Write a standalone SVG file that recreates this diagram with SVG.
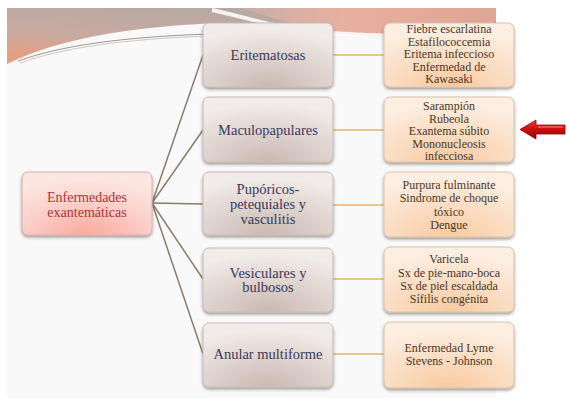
<svg xmlns="http://www.w3.org/2000/svg" width="567" height="401" viewBox="0 0 567 401">
<defs>
<linearGradient id="band" x1="0" y1="1" x2="0.55" y2="0">
<stop offset="0" stop-color="#ef9a76"/>
<stop offset="0.45" stop-color="#c9aaa0"/>
<stop offset="1" stop-color="#b4a9a4"/>
</linearGradient>
<linearGradient id="bandR" x1="0" y1="0" x2="1" y2="0">
<stop offset="0" stop-color="#e9b6a6" stop-opacity="0.3"/>
<stop offset="0.4" stop-color="#e8b09e"/>
<stop offset="1" stop-color="#dfa594"/>
</linearGradient>
<radialGradient id="gMid" cx="0.5" cy="1" r="0.9">
<stop offset="0" stop-color="#c9b8b1"/>
<stop offset="0.6" stop-color="#e2d7d2"/>
<stop offset="1" stop-color="#f1ece9"/>
</radialGradient>
<radialGradient id="gRight" cx="0.5" cy="1" r="0.9">
<stop offset="0" stop-color="#f8c9a0"/>
<stop offset="0.6" stop-color="#fbe0c8"/>
<stop offset="1" stop-color="#fdeee2"/>
</radialGradient>
<radialGradient id="gRoot" cx="0.5" cy="1" r="0.9">
<stop offset="0" stop-color="#fba89c"/>
<stop offset="0.6" stop-color="#fbd3cd"/>
<stop offset="1" stop-color="#fce6e2"/>
</radialGradient>
<linearGradient id="gArrow" x1="0" y1="0" x2="0" y2="1">
<stop offset="0" stop-color="#e84040"/>
<stop offset="0.45" stop-color="#d01010"/>
<stop offset="1" stop-color="#8a0000"/>
</linearGradient>
<filter id="sh" x="-10%" y="-10%" width="120%" height="130%">
<feDropShadow dx="0" dy="2" stdDeviation="1.5" flood-color="#3a2a20" flood-opacity="0.45"/>
</filter>
</defs>
<style>
.mid rect{fill:url(#gMid);stroke:#c9bcb6;stroke-width:1;filter:url(#sh)}
.rt rect{fill:url(#gRight);stroke:#d9c2ad;stroke-width:1;filter:url(#sh)}
.root rect{fill:url(#gRoot);stroke:#d8b0aa;stroke-width:1;filter:url(#sh)}
text{font-family:"Liberation Serif","DejaVu Serif",serif;text-anchor:middle}
.mid text{font-size:14.5px;fill:#383a5a}
.rt text{font-size:12px;fill:#4a361f}
.root text{font-size:14px;fill:#b5323a}
#connectors .a{stroke:#8c7b6b;stroke-width:1.5;fill:none}
#connectors .b{stroke:#eac78c;stroke-width:2;fill:none}
</style>
<rect x="0" y="0" width="567" height="401" fill="#ffffff"/>
<rect x="7" y="8" width="489" height="390" fill="#f9f9f9"/>
<g id="background">
<path d="M7,8 H496 V40 C450,42 400,38 340,34 C290,28 250,20 200,24 C130,28 60,38 7,64 Z" fill="url(#band)"/>
<path d="M240,8 H496 V40 C440,41 380,38 335,33 C295,27 270,16 240,8 Z" fill="url(#bandR)"/>
<path d="M212,10 C250,18 280,30 330,33 C390,37 450,36 496,30" stroke="#ffffff" stroke-width="4" fill="none" opacity="0.85"/>
<path d="M420,40 C455,36 478,30 496,22" stroke="#c98e80" stroke-width="1.2" fill="none"/>
<path d="M18,61 C60,46 120,37 210,34" stroke="#9f968e" stroke-width="1" fill="none"/>
<path d="M20,63 C62,48 122,39 210,36" stroke="#d0c8c0" stroke-width="1" fill="none"/>
</g>
<g id="connectors">
<path class="a" d="M152,203 L203,55"/>
<path class="a" d="M152,203 L203,130"/>
<path class="a" d="M152,203 L203,204"/>
<path class="a" d="M152,203 L203,279"/>
<path class="a" d="M152,203 L203,354"/>
<path class="b" d="M333,55 H384"/>
<path class="b" d="M333,130 H384"/>
<path class="b" d="M333,205 H384"/>
<path class="b" d="M333,279 H384"/>
<path class="b" d="M333,354 H384"/>
</g>
<g id="root" class="root">
<rect x="22" y="172" width="130" height="63" rx="6"/>
<text x="87" y="202">Enfermedades</text>
<text x="87" y="217">exantemáticas</text>
</g>
<g id="eritematosas" class="mid">
<rect x="203" y="23" width="130" height="64" rx="6"/>
<text x="268" y="60">Eritematosas</text>
</g>
<g id="maculopapulares" class="mid">
<rect x="203" y="97" width="130" height="65" rx="6"/>
<text x="268" y="135">Maculopapulares</text>
</g>
<g id="purpuricos" class="mid">
<rect x="203" y="172" width="130" height="63" rx="6"/>
<text x="268" y="193.5">Pupóricos-</text>
<text x="268" y="208.5">petequiales y</text>
<text x="268" y="223.5">vasculitis</text>
</g>
<g id="vesiculares" class="mid">
<rect x="203" y="248" width="130" height="64" rx="6"/>
<text x="268" y="277.5">Vesiculares y</text>
<text x="268" y="292">bulbosos</text>
</g>
<g id="anular" class="mid">
<rect x="203" y="323" width="130" height="64" rx="6"/>
<text x="268" y="359">Anular multiforme</text>
</g>
<g id="r1" class="rt">
<rect x="384" y="23" width="130" height="64" rx="6"/>
<text x="449" y="33">Fiebre escarlatina</text>
<text x="449" y="45.5">Estafilococcemia</text>
<text x="449" y="58">Eritema infeccioso</text>
<text x="449" y="70.5">Enfermedad de</text>
<text x="449" y="83">Kawasaki</text>
</g>
<g id="r2" class="rt">
<rect x="384" y="97" width="130" height="65" rx="6"/>
<text x="449" y="110">Sarampión</text>
<text x="449" y="122.5">Rubeola</text>
<text x="449" y="135">Exantema súbito</text>
<text x="449" y="147.5">Mononucleosis</text>
<text x="449" y="160">infecciosa</text>
</g>
<g id="r3" class="rt">
<rect x="384" y="172" width="130" height="65" rx="6"/>
<text x="449" y="189">Purpura fulminante</text>
<text x="449" y="202">Sindrome de choque</text>
<text x="449" y="215.5">tóxico</text>
<text x="449" y="228.5">Dengue</text>
</g>
<g id="r4" class="rt">
<rect x="384" y="247" width="130" height="65" rx="6"/>
<text x="449" y="263">Varicela</text>
<text x="449" y="276.5">Sx de pie-mano-boca</text>
<text x="449" y="290">Sx de piel escaldada</text>
<text x="449" y="302.5">Sífilis congénita</text>
</g>
<g id="r5" class="rt">
<rect x="384" y="322" width="130" height="66" rx="6"/>
<text x="449" y="352">Enfermedad Lyme</text>
<text x="449" y="365">Stevens - Johnson</text>
</g>
<g id="arrow">
<path d="M520,129.5 L536,120 V125 H565 V134 H536 V139 Z" fill="url(#gArrow)" stroke="#9a0000" stroke-width="0.8"/>
<path d="M538,127 H563" stroke="#f08080" stroke-width="1.5" opacity="0.7"/>
</g>
</svg>
